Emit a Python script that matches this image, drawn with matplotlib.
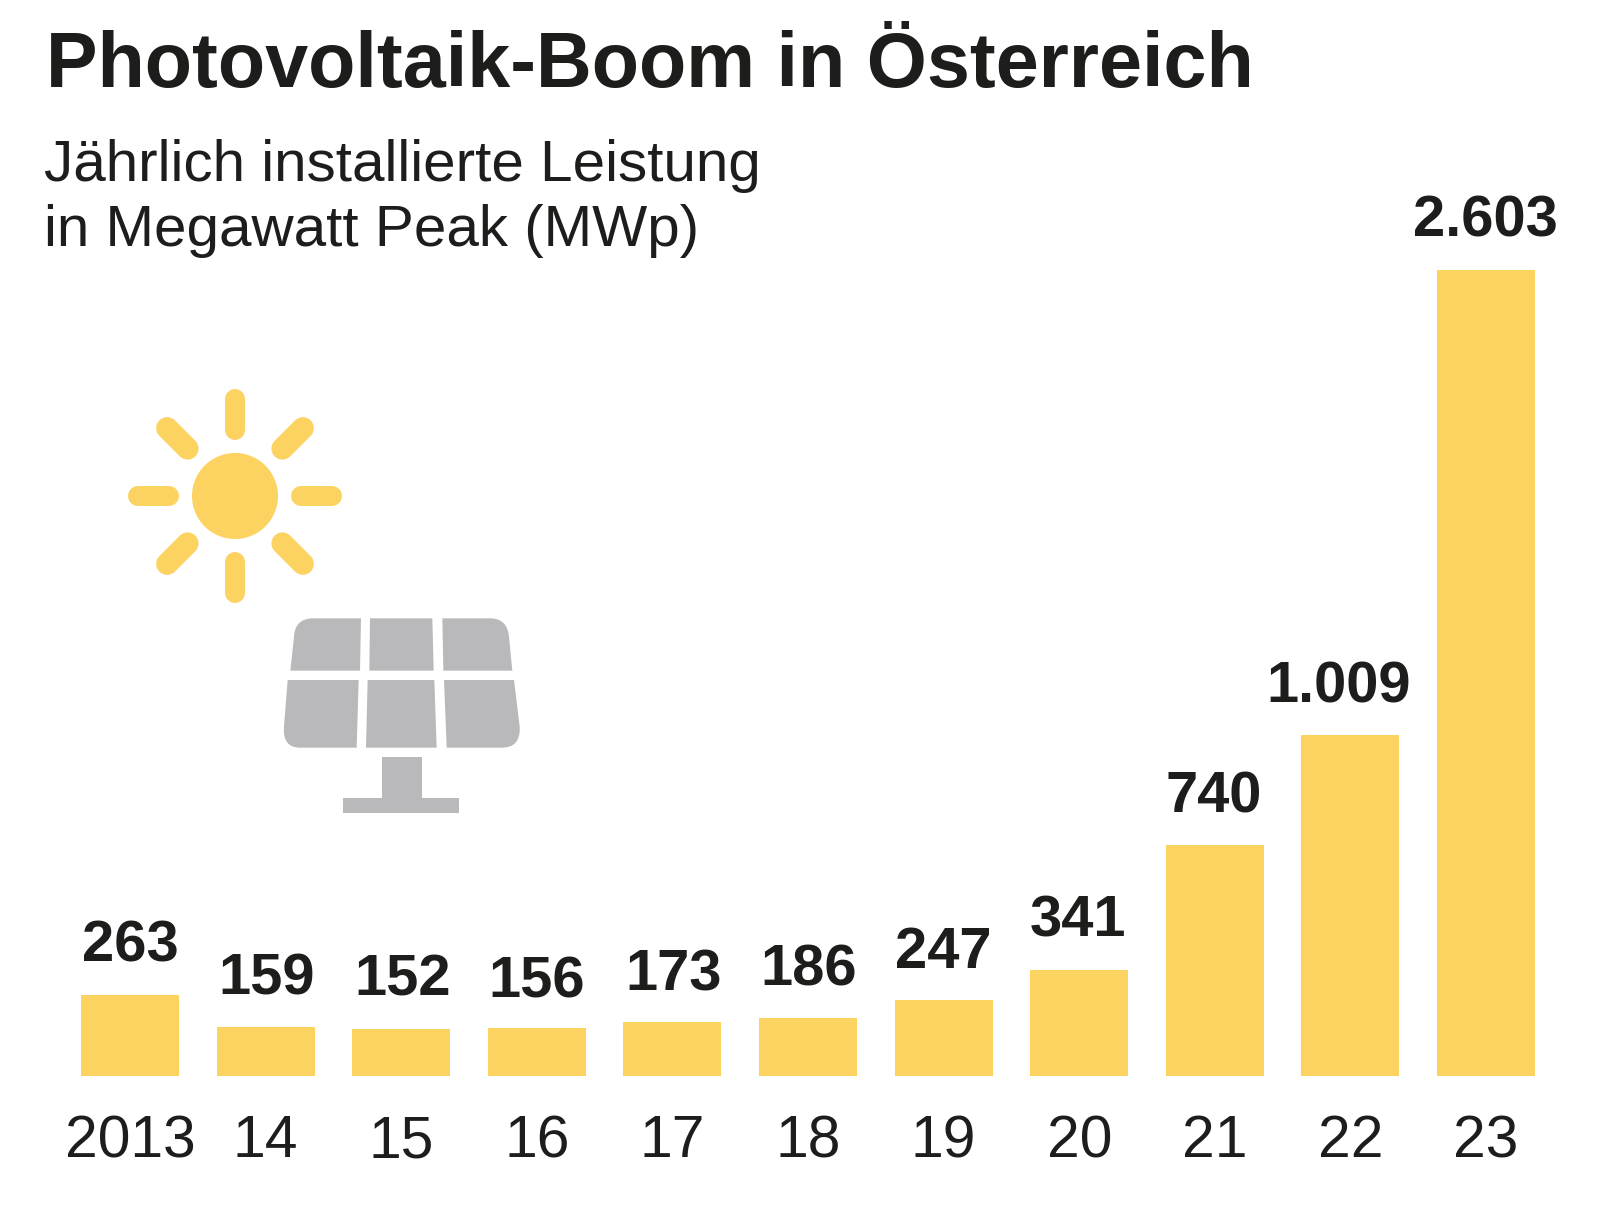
import matplotlib
matplotlib.use("Agg")
import matplotlib.pyplot as plt
from matplotlib.path import Path
from matplotlib.patches import PathPatch, Circle, Rectangle
import numpy as np

plt.rcParams['font.family'] = ['Liberation Sans', 'DejaVu Sans']

years = ["2013", "14", "15", "16", "17", "18", "19", "20", "21", "22", "23"]
# bar heights as drawn in the picture (the 2022 bar is taller than its printed label)
bar_heights = [263, 159, 152, 156, 173, 186, 247, 341, 745, 1100, 2603]
value_labels = ["263", "159", "152", "156", "173", "186", "247", "341", "740", "1.009", "2.603"]
label_dx_px = [0, 1, 1, 0, 1, 1, 0, -1, -1, -12, -1]
label_dy_px = [33, 32, 33, 30, 32, 33, 32, 34, 33, 33, 33]

YELLOW = "#FCD260"
GREY = "#B9B9BB"
TEXT = "#1D1D1B"
W, H = 1616, 1212

fig = plt.figure(figsize=(W / 100, H / 100), dpi=100, facecolor="white")

# Bar axes: bottom at the baseline (y=1076 px), x=0 at 130 px, spacing 135.6 px
left_px, right_px = 60, 1556
top_px, base_px = 200, 1076
ax = fig.add_axes([left_px / W, 1 - base_px / H, (right_px - left_px) / W, (base_px - top_px) / H])
ax.set_xlim((left_px - 130) / 135.6, (right_px - 130) / 135.6)
ax.set_ylim(0, (base_px - top_px) / (806 / 2603))
ax.patch.set_alpha(0)
for s in ax.spines.values():
    s.set_visible(False)
ax.bar(range(len(bar_heights)), bar_heights, width=98 / 135.6, color=YELLOW, linewidth=0)
ax.set_xticks(range(len(years)), years)
ax.set_yticks([])
px2pt = 72 / 100
ax.tick_params(axis="x", length=0, pad=81 * px2pt, labelsize=42.3, labelcolor=TEXT)
for t in ax.get_xticklabels():
    t.set_verticalalignment("baseline")

for i, (v, lab) in enumerate(zip(bar_heights, value_labels)):
    ax.annotate(lab, (i, v), xytext=(label_dx_px[i] * px2pt, label_dy_px[i] * px2pt),
                textcoords="offset points", ha="center", va="baseline",
                fontsize=41.7, fontweight="bold", color=TEXT)

# Title and subtitle
fig.text(46 / W, 1 - 87 / H, "Photovoltaik-Boom in Österreich", fontsize=55.7, fontweight="bold",
         color=TEXT, ha="left", va="baseline")
fig.text(44 / W, 1 - 181 / H, "Jährlich installierte Leistung", fontsize=42, color=TEXT,
         ha="left", va="baseline")
fig.text(44 / W, 1 - 246 / H, "in Megawatt Peak (MWp)", fontsize=42, color=TEXT,
         ha="left", va="baseline")

# Icons, drawn in a pixel-coordinate overlay
ov = fig.add_axes([0, 0, 1, 1], zorder=0)
ov.set_xlim(0, W)
ov.set_ylim(H, 0)
ov.axis("off")
ov.patch.set_alpha(0)


def z(x, y):
    return (110 + x / 3, 380 + y / 3)


cx, cy = z(375, 348)
ov.add_patch(Circle((cx, cy), 43, color=YELLOW, lw=0))
for k, a in enumerate(np.deg2rad(np.arange(0, 360, 45))):
    lw_px = 20 if k % 2 == 0 else 22
    r0, r1 = 56 + lw_px / 2, 107 - lw_px / 2
    ov.plot([cx + r0 * np.cos(a), cx + r1 * np.cos(a)], [cy + r0 * np.sin(a), cy + r1 * np.sin(a)],
            color=YELLOW, lw=lw_px * px2pt, solid_capstyle="round")


def rounded(pts):
    """pts: list of (x, y) or (x, y, 'c') where 'c' is a quadratic control point."""
    verts, codes = [], []
    for k, p in enumerate(pts):
        verts.append(z(p[0], p[1]))
        if k == 0:
            codes.append(Path.MOVETO)
        elif len(p) == 3 or (k > 0 and len(pts[k - 1]) == 3):
            codes.append(Path.CURVE3)
        else:
            codes.append(Path.LINETO)
    verts.append(verts[0])
    codes.append(Path.CLOSEPOLY)
    return Path(verts, codes)


cells = [
    [(541, 872), (552, 770), (555, 715, 'c'), (610, 715), (753, 715), (750, 872)],
    [(780, 715), (967, 715), (971, 872), (778, 872)],
    [(997, 715), (1140, 715), (1192, 715, 'c'), (1197, 770), (1207, 872), (1000, 872)],
    [(533, 900), (746, 900), (740, 1103), (570, 1103), (517, 1103, 'c'), (522, 1040)],
    [(773, 900), (973, 900), (980, 1103), (768, 1103)],
    [(1002, 900), (1212, 900), (1229, 1040), (1233, 1103, 'c'), (1175, 1103), (1010, 1103)],
]
for c in cells:
    ov.add_patch(PathPatch(rounded(c), facecolor=GREY, lw=0))
x0, y0 = z(815, 1132)
x1, y1 = z(935, 1255)
ov.add_patch(Rectangle((x0, y0), x1 - x0, y1 - y0, facecolor=GREY, lw=0))
x0, y0 = z(700, 1255)
x1, y1 = z(1048, 1298)
ov.add_patch(Rectangle((x0, y0), x1 - x0, y1 - y0, facecolor=GREY, lw=0))

fig.savefig("out.png", dpi=100, facecolor="white")
